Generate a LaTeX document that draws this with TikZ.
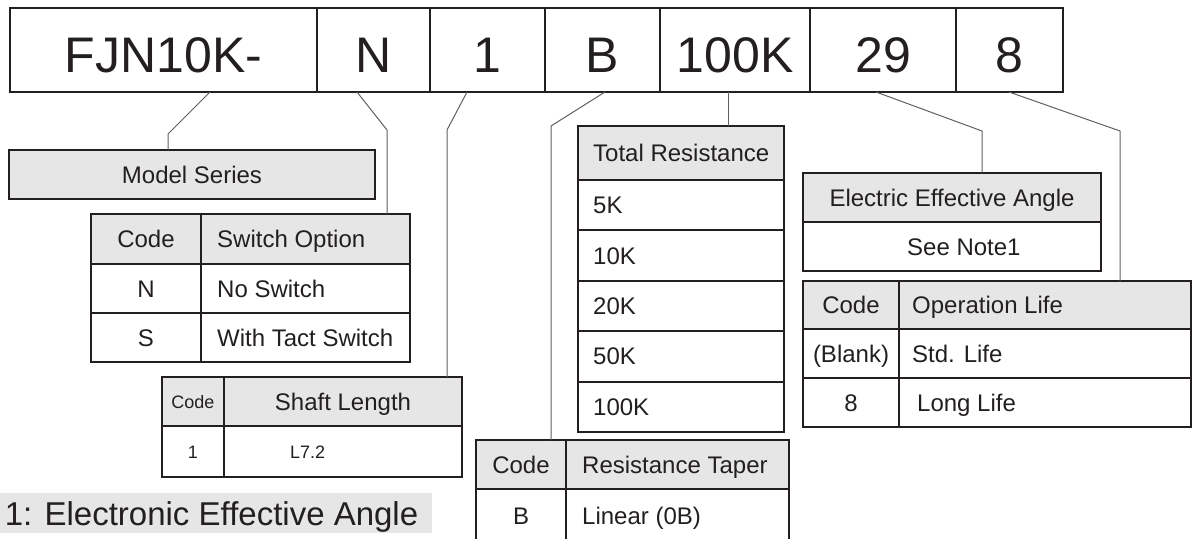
\documentclass[tikz,border=0pt]{standalone}
\usepackage{fontspec}
\setmainfont{Liberation Sans}
\usetikzlibrary{positioning,calc}
\definecolor{inkc}{HTML}{231F20}
\definecolor{leadc}{HTML}{606060}
\definecolor{headc}{HTML}{E6E6E6}
\tikzset{
  cell/.style 2 args={draw=inkc, line width=2pt, inner sep=0pt, outer sep=0pt,
    anchor=north west, minimum width=#1, minimum height=#2, text=inkc,
    font=\fontsize{24}{28}\selectfont, text height=17pt, text depth=0pt},
  top/.style={line width=2.4pt, font=\fontsize{50}{56}\selectfont,
    text height=44pt, text depth=0pt},
  head/.style={fill=headc},
  small/.style={font=\fontsize{18}{20}\selectfont, text height=13pt, text depth=0pt},
  txt/.style={inner sep=0pt, text=inkc, font=\fontsize{24}{28}\selectfont,
    text height=17pt, text depth=0pt},
  lead/.style={draw=leadc, line width=1pt},
}
\begin{document}
\begin{tikzpicture}[x=1pt, y=-1pt]
\useasboundingbox (0,0) rectangle (1193,538);

% part number
\node[cell={307}{84}, top] (fjn) at (10,8) {FJN10K-};
\node[cell={113}{84}, top] (sw) at (317,8) {N};
\node[cell={115}{84}, top] (len) at (430,8) {1};
\node[cell={115}{84}, top] (tap) at (545,8) {B};
\node[cell={150}{84}, top] (res) at (660,8) {100K};
\node[cell={146}{84}, top] (ang) at (810,8) {29};
\node[cell={107}{84}, top] (life) at (956,8) {8};

% model series
\node[cell={366}{49}, head] (ser) at (9,150) {Model Series};

% switch option
\node[cell={110}{50}, head] (swc) at (91,214) {Code};
\node[cell={209}{50}, head] (swh) at (201,214) {};
\node[txt, right=16pt of swh.west] {Switch Option};
\node[cell={110}{49}] (swnc) at (91,264) {N};
\node[cell={209}{49}] (swn) at (201,264) {};
\node[txt, right=16pt of swn.west] {No Switch};
\node[cell={110}{49}] (swsc) at (91,313) {S};
\node[cell={209}{49}] (sws) at (201,313) {};
\node[txt, right=16pt of sws.west] {With Tact Switch};

% shaft length
\node[cell={62}{49}, head, small] (lnc) at (162,377) {Code};
\node[cell={238}{49}, head] (lnh) at (224,377) {Shaft Length};
\node[cell={62}{51}, small] (ln1c) at (162,426) {1};
\node[cell={238}{51}] (ln1) at (224,426) {};
\node[txt, small, right=66pt of ln1.west] {L7.2};

% resistance taper
\node[cell={90}{49}, head] (tpc) at (476,440) {Code};
\node[cell={223}{49}, head] (tph) at (566,440) {};
\node[txt, right=16pt of tph.west] {Resistance Taper};
\node[cell={90}{54}] (tpbc) at (476,489) {B};
\node[cell={223}{54}] (tpb) at (566,489) {};
\node[txt, right=16pt of tpb.west] {Linear (0B)};

% total resistance
\node[cell={206}{54}, head] (rhd) at (578,126) {};
\node[txt, right=15pt of rhd.west] {Total Resistance};
\foreach \v [count=\i] in {5K,10K,20K,50K,100K} {
  \node[cell={206}{50.4}] (r\i) at (578,{180+(\i-1)*50.4}) {};
  \node[txt, right=15pt of r\i.west] {\v};
}

% electric effective angle
\node[cell={298}{49}, head] (angh) at (803,173) {Electric Effective Angle};
\node[cell={298}{49}] (angn) at (803,222) {};
\node[txt, right=104pt of angn.west] {See Note1};

% operation life
\node[cell={96}{48}, head] (lfc) at (803,281) {Code};
\node[cell={292}{48}, head] (lfh) at (899,281) {};
\node[txt, right=13pt of lfh.west] {Operation Life};
\node[cell={96}{49}] (lf1c) at (803,329) {(Blank)};
\node[cell={292}{49}] (lf1) at (899,329) {};
\node[txt, right=13pt of lf1.west] {Std. Life};
\node[cell={96}{49}] (lf2c) at (803,378) {8};
\node[cell={292}{49}] (lf2) at (899,378) {};
\node[txt, right=18pt of lf2.west] {Long Life};

% note
\node[fill=headc, inner sep=0pt, anchor=north west, minimum width=432,
  minimum height=40] (note) at (0,493) {};
\node[txt, font=\fontsize{33}{38}\selectfont, text height=23.6pt,
  left=14pt of note.east] {1: Electronic Effective Angle};

% leaders
\coordinate (k1) at (168,134);
\coordinate (k2) at (387,130);
\coordinate (k3) at (447,130);
\coordinate (k4) at (551,126);
\coordinate (k5) at (728,110);
\coordinate (k6) at (982,131);
\coordinate (k7) at (1120,131);
\draw[lead] ([xshift=200pt]fjn.south west) -- (k1) -- (k1 |- ser.north);
\draw[lead] ([xshift=40pt]sw.south west) -- (k2) -- (k2 |- swh.north);
\draw[lead] ([xshift=37pt]len.south west) -- (k3) -- (k3 |- lnh.north);
\draw[lead] ([xshift=60pt]tap.south west) -- (k4) -- (k4 |- tpc.north);
\draw[lead] (k5 |- res.south) -- (k5 |- rhd.north);
\draw[lead] ([xshift=66pt]ang.south west) -- (k6) -- (k6 |- angh.north);
\draw[lead] ([xshift=53pt]life.south west) -- (k7) -- (k7 |- lfh.north);
\end{tikzpicture}
\end{document}
